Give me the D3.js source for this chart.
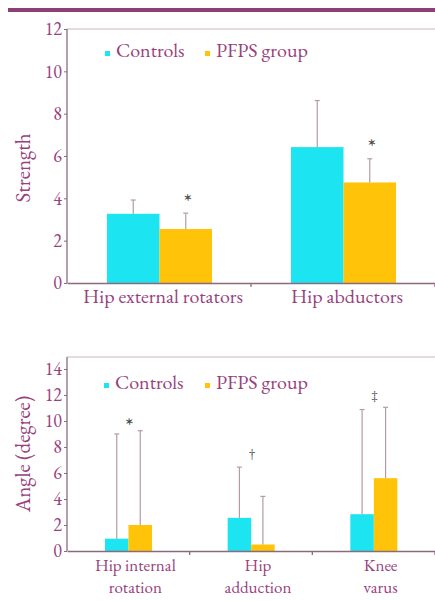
<!DOCTYPE html>
<html>
<head>
<meta charset="utf-8">
<script src="https://cdn.jsdelivr.net/npm/d3@7"></script>
<style>
  body { margin: 0; background: #fff; }
  svg { display: block; }
</style>
</head>
<body>
<script>
// data
var series = ["Controls", "PFPS group"];

var strengthCats = ["Hip external rotators", "Hip abductors"];
var strengthMean = [[3.27, 2.55], [6.42, 4.75]];
var strengthSD = [[0.65, 0.75], [2.2, 1.12]];
var strengthMarks = ["*", "*"];
var strengthTicks = [0, 2, 4, 6, 8, 10, 12];

var angleCats = [["Hip internal", "rotation"], ["Hip", "adduction"], ["Knee", "varus"]];
var angleMean = [[0.95, 2.0], [2.55, 0.5], [2.83, 5.6]];
var angleSD = [[8.05, 7.25], [3.9, 3.7], [8.05, 5.45]];
var angleMarks = ["*", "\u2020", "\u2021"];
var angleTicks = [0, 2, 4, 6, 8, 10, 12, 14];

var W = 435, H = 601;
var FONT = "'EB Garamond', 'Liberation Serif', serif";
var textColor = "#97417d";
var axisColor = "#8c6a7c";
var colors = d3.scaleOrdinal().domain(series).range(["#1ce4f0", "#ffc40a"]);

var svg = d3.select("body").append("svg").attr("width", W).attr("height", H)
  .style("font-family", FONT);

// purple header rule
svg.append("rect").attr("x", 8).attr("y", 8).attr("width", W - 8).attr("height", 4).attr("fill", "#8e3f74");

function label(sel) {
  return sel.attr("font-family", FONT).style("font-family", FONT);
}

function drawChart(opt) {
  var g = svg.append("g");
  var x = d3.scaleBand().domain(d3.range(opt.cats.length)).range([67, 435]);
  var xs = d3.scaleBand().domain(series).range(opt.inner);
  var y = d3.scaleLinear().domain(opt.domain).range([opt.bottom, opt.top]);

  // top frame line
  g.append("line").attr("x1", 67).attr("x2", W).attr("y1", opt.top).attr("y2", opt.top)
    .attr("stroke", "#c9b7bf").attr("stroke-width", 1);

  // y axis
  var ya = g.append("g").attr("transform", "translate(67,0)")
    .call(d3.axisLeft(y).tickValues(opt.ticks).tickSize(3).tickPadding(2).tickSizeOuter(0));
  ya.attr("font-family", FONT);
  ya.select(".domain").remove();
  g.append("line").attr("x1", 67).attr("x2", 67).attr("y1", opt.top).attr("y2", opt.bottom)
    .attr("stroke", axisColor).attr("stroke-width", 1.3);
  ya.selectAll("line").attr("stroke", axisColor);
  label(ya.selectAll("text")).attr("fill", textColor).style("font-size", "18px");

  // bars + error bars
  opt.means.forEach(function(row, i) {
    row.forEach(function(v, j) {
      var bx = x(i) + xs(series[j]);
      g.append("rect").attr("x", bx).attr("y", y(v))
        .attr("width", xs.bandwidth()).attr("height", y(0) - y(v))
        .attr("fill", colors(series[j]));
      var cx = bx + xs.bandwidth() / 2;
      var top = y(v + opt.sds[i][j]);
      g.append("line").attr("x1", cx).attr("x2", cx).attr("y1", y(v)).attr("y2", top)
        .attr("stroke", "#b59aa6").attr("stroke-width", 1.2);
      g.append("line").attr("x1", cx - 2.5).attr("x2", cx + 2.5).attr("y1", top).attr("y2", top)
        .attr("stroke", "#b59aa6").attr("stroke-width", 1.2);
    });
    // significance mark
    var mx, my;
    if (opt.markAt === "pfps") {
      mx = x(i) + xs(series[1]) + xs.bandwidth() / 2 + 2;
      my = y(row[1] + opt.sds[i][1]) - opt.markDy[i];
    } else {
      var hi = d3.max(row.map(function(v, j) { return v + opt.sds[i][j]; }));
      mx = x(i) + x.bandwidth() / 2 + 1;
      my = y(hi) - opt.markDy[i];
    }
    label(g.append("text")).attr("x", mx).attr("y", my).attr("text-anchor", "middle")
      .attr("fill", "#4a4a4a").style("font-size", opt.markSize[i] + "px").text(opt.marks[i]);
  });

  // x axis
  var xa = g.append("g").attr("transform", "translate(0," + opt.bottom + ")")
    .call(d3.axisBottom(x).tickValues([]).tickSizeOuter(0));
  xa.select(".domain").attr("stroke", axisColor).attr("stroke-width", 1.3);
  opt.cats.forEach(function(c, i) {
    var bx = x(i) + x.bandwidth();
    g.append("line").attr("x1", bx).attr("x2", bx).attr("y1", opt.bottom).attr("y2", opt.bottom + 4)
      .attr("stroke", axisColor).attr("stroke-width", 1.3);
    var lines = Array.isArray(c) ? c : [c];
    lines.forEach(function(s, k) {
      label(g.append("text")).attr("text-anchor", "middle").attr("fill", textColor)
        .style("font-size", opt.labelSize + "px")
        .attr("x", x(i) + x.bandwidth() / 2 + opt.labelShift)
        .attr("y", opt.bottom + opt.labelY + k * opt.lineGap).text(s);
    });
  });

  // y label
  label(g.append("text")).attr("transform", "translate(30," + opt.ylabelY + ") rotate(-90)")
    .attr("text-anchor", "middle").attr("fill", textColor).style("font-size", "21px")
    .text(opt.ylabel);

  // legend
  series.forEach(function(s, j) {
    var lx = opt.legendX[j];
    g.append("rect").attr("x", lx).attr("y", opt.legendY - 6).attr("width", 5).attr("height", 5)
      .attr("fill", colors(s));
    label(g.append("text")).attr("x", lx + 11).attr("y", opt.legendY).attr("fill", textColor)
      .style("font-size", "20px").text(s);
  });
}

drawChart({
  cats: strengthCats, means: strengthMean, sds: strengthSD, marks: strengthMarks,
  ticks: strengthTicks, domain: [0, 12], top: 29, bottom: 283, inner: [40, 145],
  markAt: "pfps", markSize: [24, 24], markDy: [3, 4], labelY: 20, labelShift: 4, labelSize: 20, lineGap: 19,
  ylabel: "Strength", ylabelY: 168, legendX: [105, 205], legendY: 57
});

drawChart({
  cats: angleCats, means: angleMean, sds: angleSD, marks: angleMarks,
  ticks: angleTicks, domain: [0, 14.92], top: 357, bottom: 551, inner: [38, 85],
  markAt: "center", markSize: [24, 15, 15], markDy: [-3, 9, 7], labelY: 20, labelShift: 7, labelSize: 17, lineGap: 22,
  ylabel: "Angle (degree)", ylabelY: 454, legendX: [104, 205], legendY: 389
});
</script>
</body>
</html>
